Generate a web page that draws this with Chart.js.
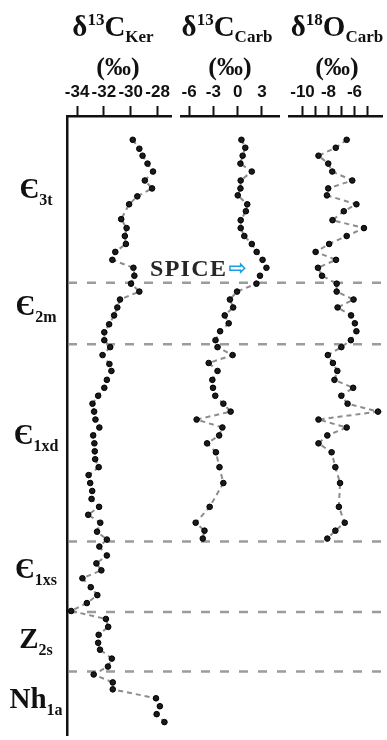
<!DOCTYPE html>
<html><head><meta charset="utf-8">
<script src="https://cdn.jsdelivr.net/npm/chart.js@4.4.1/dist/chart.umd.min.js"></script>
<style>
html,body{margin:0;padding:0;background:#fff;}
#stage{position:relative;width:387px;height:740px;overflow:hidden;font-family:'Liberation Serif','Times New Roman',serif;color:#111;}
canvas{position:absolute;top:0;}
.title{position:absolute;width:140px;text-align:center;font-weight:bold;white-space:nowrap;}
.t1{font-size:29px;line-height:28px;top:12px;}
.t2{font-size:26px;line-height:26px;top:54px;}
.sup{font-size:17px;position:relative;top:-11px;}
.sub{font-size:17px;position:relative;top:6px;}
#spice{position:absolute;left:150px;top:256px;font-weight:bold;font-size:24px;line-height:24px;letter-spacing:1.3px;color:#262626;white-space:nowrap;}
#spice .arr{font-family:'DejaVu Sans',sans-serif;font-weight:bold;font-size:22px;color:#1a9fe6;letter-spacing:0;margin-left:1px;position:relative;top:-1px;}
</style></head>
<body>
<div id="stage">
  <canvas id="c1" width="176" height="740" style="left:0"></canvas>
  <canvas id="c2" width="108" height="740" style="left:176px"></canvas>
  <canvas id="c3" width="103" height="740" style="left:284px"></canvas>

  <div class="title t1" style="left:43px">δ<span class="sup">13</span>C<span class="sub">Ker</span></div>
  <div class="title t2" style="left:48px">(‰)</div>
  <div class="title t1" style="left:157px">δ<span class="sup">13</span>C<span class="sub">Carb</span></div>
  <div class="title t2" style="left:160px">(‰)</div>
  <div class="title t1" style="left:267px">δ<span class="sup">18</span>O<span class="sub">Carb</span></div>
  <div class="title t2" style="left:267px">(‰)</div>

  <div id="spice">SPICE<span class="arr">⇨</span></div>
</div>
<script>
// ---- Data (stratigraphic height, relative units; isotope values in ‰) ----
const kerHeights = [600,591,584,576,568,559,551,543,535,520,511,503,495,487,479,471,463,455,447,439,
  431,423,414,406,398,391,383,374,367,358,350,342,334,326,318,310,302,294,286,278,
  270,262,254,246,238,230,222,214,205,197,190,181,173,166,158,149,141,133,125,117,
  109,101,93,86,77,69,61,53,46,37,29,21,13];
const kerValues = [-29.85,-29.36,-29.12,-28.75,-28.34,-28.95,-28.41,-29.51,-30.12,-30.71,
  -30.31,-30.44,-30.36,-31.15,-31.37,-29.80,-29.73,-29.98,-29.36,-30.80,
  -31.00,-31.24,-31.61,-31.97,-31.97,-31.53,-32.10,-31.59,-31.44,-31.78,
  -31.97,-32.43,-32.85,-32.73,-32.63,-32.34,-32.80,-32.71,-32.68,-32.65,
  -32.39,-33.14,-33.02,-32.87,-32.92,-32.36,-33.17,-32.27,-32.51,-31.78,
  -32.34,-31.78,-32.56,-32.19,-33.60,-32.98,-32.49,-33.27,-34.44,-31.85,
  -31.68,-32.39,-32.43,-32.29,-31.41,-31.70,-32.76,-31.34,-31.34,-28.12,
  -27.83,-28.07,-27.49];

const carbHeights = [600,592,584,576,568,559,551,544,535,528,519,511,503,495,487,479,471,463,455,447,
  439,431,423,415,407,398,391,383,375,367,358,350,342,334,326,318,310,302,294,285,
  270,254,230,214,206,198];
const carbC13Values = [0.46,0.94,0.61,0.34,1.74,0.37,0.34,0.01,1.18,1.01,
  0.37,0.37,0.82,1.74,2.34,3.07,3.55,2.75,2.31,-0.08,
  -0.96,-0.56,-1.60,-1.11,-2.17,-2.74,-2.49,-0.63,-3.58,-2.49,
  -3.13,-3.05,-2.77,-1.77,-0.87,-5.07,-1.89,-2.29,-3.78,-2.69,
  -2.25,-1.77,-3.46,-5.19,-4.10,-4.31];
const carbO18Values = [-6.60,-7.44,-8.77,-8.02,-7.71,-6.17,-8.02,-8.12,-5.85,-6.82,
  -7.69,-5.27,-6.60,-7.95,-8.99,-7.42,-8.81,-8.50,-7.37,-7.37,
  -6.07,-7.30,-6.26,-5.97,-5.85,-6.28,-7.01,-8.05,-7.66,-7.32,
  -7.54,-6.10,-7.01,-6.53,-4.19,-8.77,-6.60,-8.09,-8.77,-7.76,
  -7.47,-7.11,-7.20,-6.75,-7.47,-8.09];

// axis ticks
const kerTicks = [-34,-32,-30,-28];
const kerTickLabels = ['-34','-32','-30','-28'];
const carbTicks = [-6,-3,0,3];
const carbTickLabels = ['-6','-3','0','3'];
const oxyTicks = [-10,-9,-8,-7,-6,-5];
const oxyTickLabels = ['-10','','-8','','-6',''];

// formation boundaries (heights) and unit labels
const boundaries = [456,394,195,124,64];
const stageSymbols = ['Є','Є','Є','Є','Z','Nh'];
const stageSubs = ['3t','2m','1xd','1xs','2s','1a'];
const stageLabelHeights = [550,432,302,167,97,36];

const HEIGHT_MAX = 624;

// ---- Plugins ----
const boundaryPlugin = {
  id: 'boundaryLines',
  beforeDatasetsDraw(chart, args, opts) {
    const {ctx, chartArea, scales} = chart;
    const y = scales.y;
    const x0 = opts.fromArea ? chartArea.left + 2 : 0;
    const x1 = chart.width;
    ctx.save();
    ctx.strokeStyle = '#9c9c9c';
    ctx.lineWidth = 2.5;
    ctx.setLineDash([9, 10]);
    ctx.lineDashOffset = x0 + opts.pageLeft - 68;
    boundaries.forEach(h => {
      const py = y.getPixelForValue(h);
      ctx.beginPath();
      ctx.moveTo(x0, py);
      ctx.lineTo(x1, py);
      ctx.stroke();
    });
    ctx.restore();
  }
};

const stagePlugin = {
  id: 'stageLabels',
  afterDraw(chart) {
    if (!chart.options.plugins.stageLabels || !chart.options.plugins.stageLabels.show) return;
    const {ctx, scales} = chart;
    const y = scales.y;
    const mainFont = 'bold 29px "Liberation Serif", serif';
    const subFont = 'bold 16px "Liberation Serif", serif';
    ctx.save();
    ctx.fillStyle = '#111';
    ctx.textBaseline = 'alphabetic';
    ctx.textAlign = 'left';
    stageSymbols.forEach((sym, i) => {
      const cy = y.getPixelForValue(stageLabelHeights[i]);
      ctx.font = mainFont;
      const w1 = ctx.measureText(sym).width;
      ctx.font = subFont;
      const w2 = ctx.measureText(stageSubs[i]).width;
      const left = 36 - (w1 + w2) / 2;
      const base = cy + 9;
      ctx.font = mainFont;
      ctx.fillText(sym, left, base);
      ctx.font = subFont;
      ctx.fillText(stageSubs[i], left + w1, base + 7);
    });
    ctx.restore();
  }
};

const tickFont = {family: "'Liberation Sans Narrow', 'Liberation Sans', Arial, sans-serif", size: 17, weight: 'bold'};

function panel(id, cfg) {
  return new Chart(document.getElementById(id), {
    type: 'scatter',
    data: {
      datasets: [{
        data: cfg.values.map((v, i) => ({x: v, y: cfg.heights[i]})),
        showLine: true,
        borderColor: '#8c8c8c',
        borderWidth: 2,
        borderDash: [5, 4],
        pointRadius: 2.8,
        pointBackgroundColor: '#1a1a1a',
        pointBorderColor: '#000',
        pointBorderWidth: 1,
        tension: 0,
        clip: 6
      }]
    },
    options: {
      responsive: false,
      animation: false,
      events: [],
      layout: {padding: {left: cfg.padL, right: cfg.padR, top: 82, bottom: 0}},
      plugins: {
        legend: {display: false},
        tooltip: {enabled: false},
        boundaryLines: {pageLeft: cfg.pageLeft, fromArea: cfg.showY},
        stageLabels: {show: cfg.showY}
      },
      scales: {
        x: {
          type: 'linear',
          position: 'top',
          min: cfg.min,
          max: cfg.max,
          afterBuildTicks: s => { s.ticks = cfg.ticks.map(v => ({value: v})); },
          afterFit: s => { s.height = 34; },
          ticks: {
            autoSkip: false,
            maxRotation: 0,
            padding: 3,
            color: '#111',
            font: tickFont,
            callback: (v, i) => cfg.tickLabels[i]
          },
          grid: {display: true, drawOnChartArea: false, drawTicks: true, tickLength: 10, tickWidth: 2, tickColor: '#111', color: '#111'},
          border: {display: true, color: '#111', width: 2.5}
        },
        y: {
          type: 'linear',
          min: 0,
          max: HEIGHT_MAX,
          display: cfg.showY,
          afterFit: s => { s.width = 0; },
          ticks: {display: false},
          grid: {display: false},
          border: {display: true, color: '#111', width: 2.5}
        }
      }
    },
    plugins: [boundaryPlugin, stagePlugin]
  });
}

panel('c1', {heights: kerHeights, values: kerValues, min: -34.75, max: -27.0,
  ticks: kerTicks, tickLabels: kerTickLabels, padL: 67, padR: 3, pageLeft: 0, showY: true});
panel('c2', {heights: carbHeights, values: carbC13Values, min: -7.0, max: 5.1,
  ticks: carbTicks, tickLabels: carbTickLabels, padL: 4, padR: 4, pageLeft: 176, showY: false});
panel('c3', {heights: carbHeights, values: carbO18Values, min: -11.04, max: -3.88,
  ticks: oxyTicks, tickLabels: oxyTickLabels, padL: 4, padR: 0, pageLeft: 284, showY: false});
</script>
</body></html>
